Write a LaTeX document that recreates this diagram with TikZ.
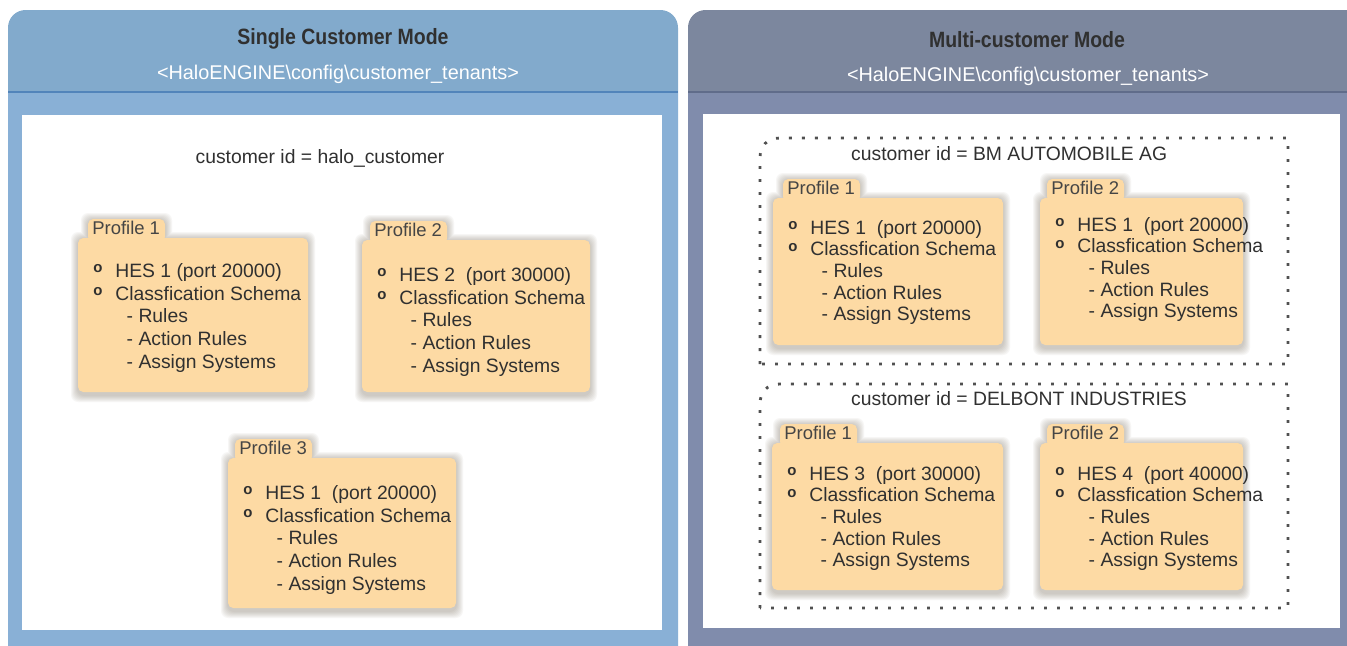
\documentclass[tikz,border=0pt]{standalone}
\usepackage{fontspec}
\setmainfont{Liberation Sans}
\newfontfamily\headfont[FakeStretch=0.88]{Liberation Sans}
\usepackage{xcolor}
\definecolor{lefthead}{RGB}{130, 170, 204}
\definecolor{leftbody}{RGB}{137, 176, 214}
\definecolor{leftline}{RGB}{82, 132, 186}
\definecolor{righthead}{RGB}{124, 135, 158}
\definecolor{rightbody}{RGB}{128, 140, 172}
\definecolor{rightline}{RGB}{96, 108, 138}
\definecolor{cardpeach}{RGB}{253, 218, 164}
\definecolor{cardshade}{RGB}{105, 92, 72}
\definecolor{ink}{RGB}{48, 48, 48}
\definecolor{dotgray}{RGB}{80, 80, 80}
\usetikzlibrary{calc,positioning}

\newcommand{\bul}{\raisebox{0.45ex}{\fontsize{8.5}{8.5}\selectfont\bfseries o}}
% #1 name, (#2,#3) top left of card, #4 width, #5 height,
% #6 tab offset, #7 tab label, #8 first line, #9 text drop
\newcommand{\profilecard}[9]{%
    % soft shadow round the card
    \foreach \g in {1,...,7}
        \fill[cardshade, opacity=0.05, rounded corners=4pt]
            (#2-\g,#3+1-\g) rectangle (#2+#4+\g,#3+#5+3+\g)
            (#2+#6-\g,#3-18-\g) rectangle (#2+#6+77+\g,#3+4);
    % tab and body
    \fill[cardpeach, rounded corners=3pt] (#2+#6,#3-19) rectangle (#2+#6+77,#3+4);
    \fill[cardpeach, rounded corners=3pt] (#2,#3) rectangle (#2+#4,#3+#5);
    \node[tablabel] (#1tab) at (#2+#6+4,#3-4) {#7};
    \node[cardtext] (#1) at (#2+15,#3+#9) {%
        \makebox[12.5pt][l]{\bul}#8\\
        \makebox[12.5pt][l]{\bul}Classfication Schema\\
        \hspace*{19pt}- Rules\\
        \hspace*{19pt}- Action Rules\\
        \hspace*{19pt}- Assign Systems};
}

\begin{document}
\begin{tikzpicture}[x=0.02cm, y=-0.02cm,
    titlelabel/.style={text=ink, font=\headfont\bfseries\fontsize{12.6}{14}\selectfont},
    pathlabel/.style={text=white, font=\fontsize{11.3}{13}\selectfont},
    idlabel/.style={text=ink, font=\fontsize{11}{13}\selectfont},
    tablabel/.style={anchor=base west, inner sep=0pt, text=ink!90, font=\fontsize{10.5}{12}\selectfont},
    cardtext/.style={anchor=north west, inner sep=0pt, align=left, text=ink,
        font=\fontsize{11}{12.3}\selectfont},
    dotline/.style={draw=dotgray, line width=1.6pt, dash pattern=on 1.6pt off 5.8pt}]
    \useasboundingbox (0,0) rectangle (1347,646);

    % Single customer panel
    \fill[lefthead, rounded corners=10pt] (8,670) -- (8,10) -- (678,10) -- (678,670) -- cycle;
    \fill[leftbody] (8,92) rectangle (678,670);
    \draw[leftline, line width=1.2pt] (8,92) -- (678,92);
    \fill[white] (22,115) rectangle (662,630);
    \node[titlelabel] (singletitle) at (343,39) {Single Customer Mode};
    \node[pathlabel] (singlepath) at (338,74) {<HaloENGINE\textbackslash config\textbackslash customer\_tenants>};
    \node[idlabel] (singleid) at (320,158) {customer id = halo\_customer};

    \begin{scope}[cardtext/.append style={font=\fontsize{11}{12.9}\selectfont}]
        \profilecard{sone}{78}{238}{230}{154}{10}{Profile 1}{HES 1 (port 20000)}{25}
        \profilecard{stwo}{362}{240}{228}{152}{8}{Profile 2}{HES 2~ (port 30000)}{27}
        \profilecard{sthree}{228}{458}{228}{150}{7}{Profile 3}{HES 1~ (port 20000)}{27}
    \end{scope}

    % Multi-customer panel
    \fill[righthead, rounded corners=10pt] (688,670) -- (688,10) -- (1372,10) -- (1372,670) -- cycle;
    \fill[rightbody] (688,92) rectangle (1372,670);
    \draw[rightline, line width=1.2pt] (688,92) -- (1372,92);
    \fill[white] (703,114) rectangle (1340,628);
    \node[titlelabel] (multititle) at (1027,40) {Multi-customer Mode};
    \node[pathlabel] (multipath) at (1028,76) {<HaloENGINE\textbackslash config\textbackslash customer\_tenants>};

    % Tenant BM
    \draw[dotline] (760,364) -- (760,158) .. controls (760,147) and (766,138) .. (780,138) -- (1288,138) -- (1288,364) -- cycle;
    \node[idlabel, anchor=west] (bmid) at (845,154) {customer id = BM AUTOMOBILE AG};
    \profilecard{bmone}{773}{198}{230}{147}{10}{Profile 1}{HES 1~ (port 20000)}{22}
    \profilecard{bmtwo}{1040}{198}{203}{147}{7}{Profile 2}{HES 1~ (port 20000)}{19}

    % Tenant Delbont
    \draw[dotline] (760,608) -- (760,404) .. controls (760,393) and (766,384) .. (780,384) -- (1288,384) -- (1288,608) -- cycle;
    \node[idlabel, anchor=west] (delid) at (845,399) {customer id = DELBONT INDUSTRIES};
    \profilecard{delone}{772}{443}{231}{147}{8}{Profile 1}{HES 3~ (port 30000)}{23}
    \profilecard{deltwo}{1040}{443}{203}{147}{7}{Profile 2}{HES 4~ (port 40000)}{23}
\end{tikzpicture}
\end{document}
